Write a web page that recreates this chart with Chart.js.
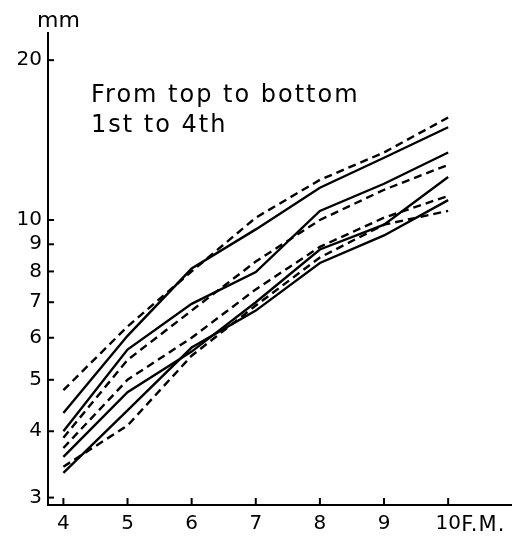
<!DOCTYPE html>
<html>
<head>
<meta charset="utf-8">
<script src="https://cdn.jsdelivr.net/npm/chart.js@4"></script>
<style>
html,body{margin:0;padding:0;background:#fff;}
#wrap{width:516px;height:539px;}
</style>
</head>
<body>
<div id="wrap"><canvas id="c" width="516" height="539"></canvas></div>
<script>
// Fetal months (x) and body lengths in mm (log y)
const months = [4, 5, 6, 7, 8, 9, 10];
const yTicks = [3, 4, 5, 6, 7, 8, 9, 10, 20];
const yTickLabels = ['3', '4', '5', '6', '7', '8', '9', '10', '20'];
const xTickLabels = ['4', '5', '6', '7', '8', '9', '10'];

const first_solid   = [4.33, 6.05, 8.1, 9.6, 11.5, 13.1, 14.95];
const first_dashed  = [4.78, 6.3, 8.0, 10.1, 11.9, 13.4, 15.6];
const second_solid  = [4.0, 5.7, 6.95, 7.98, 10.4, 11.7, 13.4];
const second_dashed = [3.89, 5.45, 6.75, 8.35, 10.0, 11.4, 12.7];
const third_solid   = [3.58, 4.74, 5.65, 7.0, 8.8, 9.8, 12.05];
const third_dashed  = [3.72, 5.0, 6.0, 7.4, 8.9, 10.1, 11.1];
const fourth_solid  = [3.34, 4.38, 5.75, 6.75, 8.3, 9.35, 10.9];
const fourth_dashed = [3.43, 4.1, 5.55, 6.9, 8.5, 9.8, 10.4];

const FONT = "'DejaVu Sans', sans-serif";

function series(label, vals, dashed) {
  return {
    label: label,
    data: months.map((m, i) => ({x: m, y: vals[i]})),
    borderColor: '#000',
    borderWidth: 2.4,
    borderDash: dashed ? [8, 5] : [],
    pointRadius: 0,
    fill: false,
    tension: 0
  };
}

const annot = {
  id: 'annot',
  afterDraw(chart) {
    const ctx = chart.ctx;
    const xs = chart.scales.x, ys = chart.scales.y;
    ctx.save();
    ctx.strokeStyle = '#000';
    ctx.lineWidth = 2;
    // inward tick marks
    yTicks.forEach(v => {
      const py = ys.getPixelForValue(v);
      ctx.beginPath(); ctx.moveTo(xs.left, py); ctx.lineTo(xs.left + 6, py); ctx.stroke();
    });
    months.forEach(m => {
      const px = xs.getPixelForValue(m);
      ctx.beginPath(); ctx.moveTo(px, ys.bottom); ctx.lineTo(px, ys.bottom - 7); ctx.stroke();
    });
    ctx.fillStyle = '#000';
    ctx.textBaseline = 'alphabetic';
    ctx.textAlign = 'left';
    ctx.font = '22px ' + FONT;
    ctx.fillText('mm', 37, 27);
    ctx.font = '24px ' + FONT;
    try { ctx.letterSpacing = '2px'; } catch (e) {}
    ctx.fillText('From top to bottom', 91, 102);
    ctx.fillText('1st to 4th', 91, 132);
    ctx.font = '21px ' + FONT;
    try { ctx.letterSpacing = '1px'; } catch (e) {}
    const p10 = xs.getPixelForValue(10);
    ctx.fillText('F.M.', p10 + 13, 531);
    ctx.restore();
  }
};

new Chart(document.getElementById('c'), {
  type: 'line',
  data: {
    datasets: [
      series('1st (solid)', first_solid, false),
      series('1st (dashed)', first_dashed, true),
      series('2nd (solid)', second_solid, false),
      series('2nd (dashed)', second_dashed, true),
      series('3rd (solid)', third_solid, false),
      series('3rd (dashed)', third_dashed, true),
      series('4th (solid)', fourth_solid, false),
      series('4th (dashed)', fourth_dashed, true)
    ]
  },
  options: {
    responsive: false,
    animation: false,
    devicePixelRatio: 1,
    layout: {padding: {top: 33, right: 5, left: 0, bottom: 0}},
    plugins: {legend: {display: false}, tooltip: {enabled: false}},
    scales: {
      x: {
        type: 'linear',
        min: 3.76,
        max: 10.98,
        afterBuildTicks: s => { s.ticks = months.map(v => ({value: v})); },
        afterFit: s => { s.height = 34; },
        ticks: {
          color: '#000',
          font: {family: FONT, size: 20},
          padding: 7,
          maxRotation: 0,
          autoSkip: false,
          callback: (v) => { const i = months.indexOf(v); return i >= 0 ? xTickLabels[i] : ''; }
        },
        grid: {display: false, drawTicks: false},
        border: {display: true, color: '#000', width: 2}
      },
      y: {
        type: 'logarithmic',
        min: 2.905,
        max: 22.5,
        afterBuildTicks: s => { s.ticks = yTicks.map(v => ({value: v})); },
        afterFit: s => { s.width = 48; },
        ticks: {
          color: '#000',
          font: {family: FONT, size: 20},
          padding: 6,
          autoSkip: false,
          callback: (v) => { const i = yTicks.indexOf(v); return i >= 0 ? yTickLabels[i] : ''; }
        },
        grid: {display: false, drawTicks: false},
        border: {display: true, color: '#000', width: 2}
      }
    }
  },
  plugins: [annot]
});
</script>
</body>
</html>
